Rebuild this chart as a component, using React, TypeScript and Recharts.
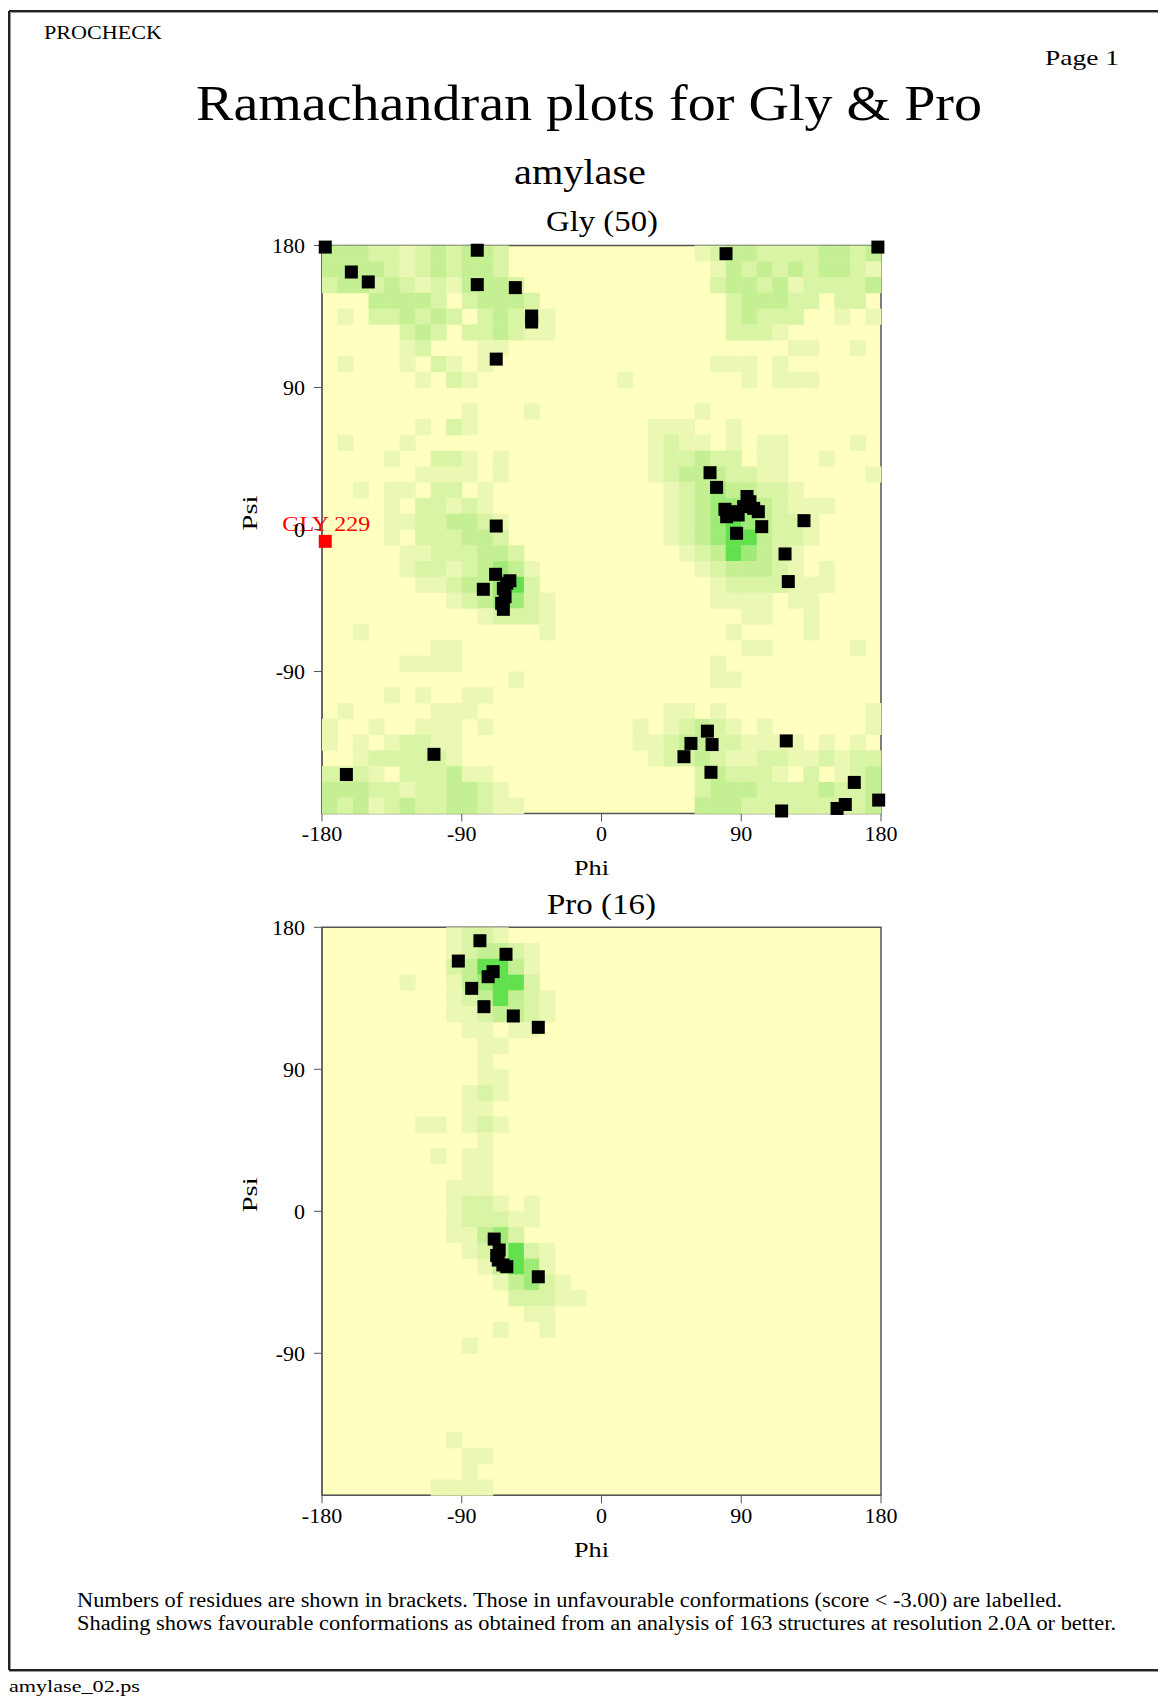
import React from 'react';
import { ScatterChart, Scatter, XAxis, YAxis, CartesianGrid, ReferenceArea } from 'recharts';

// ---------- data ----------
const PHI_TICKS = [-180, -90, 0, 90, 180];
const PSI_TICKS = [-90, 0, 90, 180];

// shading level per 10x10 degree cell; rows run from psi 180 (top) down to -180,
// left half = phi -180..0, right half = phi 0..180
const GLY_SHADE_LEFT = [
  '333221232332......',
  '333321232332......',
  '2332321213332.....',
  '...33332.23332....',
  '.1.223232.23221...',
  '.....232.223211...',
  '.....12...11......',
  '.1...1.21.1.......',
  '......1.21........',
  '..................',
  '.........1...1....',
  '......1.21........',
  '.1...1............',
  '....1..221.1......',
  '......1111.1......',
  '..1.11.22.1.......',
  '....1.22121.......',
  '....11223321......',
  '....1.222332......',
  '.....11222332.....',
  '.....122123431....',
  '......11233452....',
  '........1234421...',
  '..........12221...',
  '..1...........1...',
  '.......11.........',
  '.....1111.........',
  '............1.....',
  '....1.1..11.......',
  '.1.....111........',
  '1..1..111.1.......',
  '1.1.12211.........',
  '..1222221.........',
  '2221.222311.......',
  '333221223321......',
  '3231232233211.....',
];
const GLY_SHADE_RIGHT = [
  '......123322223323',
  '.......13232323321',
  '.......23323122223',
  '........233322.22.',
  '........23222..1.1',
  '........2221......',
  '............11..1.',
  '.......111.1......',
  '.1.......1.111....',
  '..................',
  '......1...........',
  '...111..1.........',
  '...1211.1.11....1.',
  '...122322.11..1...',
  '...123332211.....1',
  '....123433221.....',
  '....12344332111...',
  '....1234543221....',
  '....1234553221....',
  '.....12354321.....',
  '......1233321.1...',
  '.......12222111...',
  '.......1111.11....',
  '.........11..1....',
  '........1....1....',
  '.........11.....1.',
  '.......1..........',
  '.......11.........',
  '..................',
  '....11.1.........1',
  '..1.12321.1......1',
  '..11233221111.1.1.',
  '...122321122112122',
  '......232221.2.123',
  '......233322223223',
  '......333222222223',
];

const PRO_SHADE_LEFT = [
  '........1221......',
  '........123321....',
  '........235531....',
  '.....1..134552....',
  '........1235321...',
  '........1123321...',
  '.........11.11....',
  '..........11......',
  '..........1.......',
  '..........11......',
  '.........121......',
  '.........11.......',
  '......11.121......',
  '..........1.......',
  '.......1.11.......',
  '.........11.......',
  '........111.......',
  '........1221.1....',
  '........122211....',
  '........11342.....',
  '.........123521...',
  '..........13541...',
  '...........13421..',
  '............22211.',
  '.............11...',
  '...........1..1...',
  '.........1........',
  '..................',
  '..................',
  '..................',
  '..................',
  '..................',
  '........1.........',
  '.........11.......',
  '.........1........',
  '.......1111.......',
];
const PRO_SHADE_RIGHT = PRO_SHADE_LEFT.map(() => '..................');

const GLY_PHI = [
  -177.9, -161.1, -150.2, -80, -80, -55.5, -45, -45, -67.8,
  -67.8, -68.2, -59, -76.1, -63.2, -62.1, -63.2, -61, -64.3,
  -107.9, -164.3,
  69.9, 74.1, 79.5, 80.6, 88, 95.6, 101, 103.2, 87, 130.4, 118.2, 120.3, 84, 91.5, 98, 93.7,
  80.2, 178,
  68.2, 57.6, 71.2, 53.1, 70.5, 119, 162.8, 178.5, 151.7, 157, 116,
];
const GLY_PSI = [
  179, 163.2, 156.9, 177, 155.2, 153.3, 135.3, 131.5, 108,
  2.2, -28.4, -32.5, -37.9, -37.3, -42.6, -50.6, -34.1, -46.8,
  -142.5, -155.3,
  36.0, 26.7, 12.8, 8.1, 9.2, 17.6, 11.3, 1.8, -2.4, 5.6, -15.5, -33, 11.3, 14.5, 13.4, 20.9,
  174.8, 179,
  -127.8, -135.6, -136.3, -144.0, -153.9, -134, -160.3, -171.5, -176.8, -174.3, -178.4,
];
const GLY_OUT_PHI = [-177.9];
const GLY_OUT_PSI = [-7.5];
const GLY_OUT_LABEL = ['GLY 229'];

const PRO_PHI = [-78.3, -92.2, -61.5, -69.8, -73, -83.6, -75.7, -56.8, -40.7, -69.1, -65.9, -66.5, -61, -40.7, -63.5, -67.5];
const PRO_PSI = [171.5, 158.6, 162.9, 151.9, 148.7, 141.3, 129.7, 123.8, 116.6, -17.6, -24.5, -30.9, -35.1, -41.5, -34, -28];

// ---------- layout / style ----------
const FONT = '"Liberation Serif", "Times New Roman", Times, serif';
const PAGE_W = 1158;
const PAGE_H = 1698;
const PLOT_LEFT = 322;
const PLOT_W = 559;
const PLOT_H = 568;
const N = 36;
const CELL_W = PLOT_W / N;
const CELL_H = PLOT_H / N;
const SQ = 13;
const SHADE_COLORS = ['#FFFFC0', '#EAF8B4', '#D9F4A4', '#C4F093', '#A0EA78', '#62E04E'];
const AXIS_COLOR = '#555555';

function toCells(left: string[], right: string[]) {
  const cells: { phi: number; psi: number; level: number }[] = [];
  left.forEach((l, r) => {
    const s = (l.padEnd(18, '.').slice(0, 18) + (right[r] || '').padEnd(18, '.').slice(0, 18));
    for (let c = 0; c < N; c++) {
      const ch = s[c];
      if (ch !== '.') cells.push({ phi: -175 + 10 * c, psi: 175 - 10 * r, level: Number(ch) });
    }
  });
  return cells;
}

function toPoints(phi: number[], psi: number[], labels?: string[]) {
  return phi.map((p, i) => ({ phi: p, psi: psi[i], label: labels ? labels[i] : '' }));
}

const CellShape = (props: any) => {
  const { cx, cy, payload } = props;
  if (cx == null || cy == null) return <g />;
  return (
    <rect
      x={cx - CELL_W / 2}
      y={cy - CELL_H / 2}
      width={CELL_W + 0.4}
      height={CELL_H + 0.4}
      fill={SHADE_COLORS[payload.level]}
      stroke="none"
    />
  );
};

const PointShape = (props: any) => {
  const { cx, cy } = props;
  if (cx == null || cy == null) return <g />;
  return <rect x={cx - SQ / 2} y={cy - SQ / 2} width={SQ} height={SQ} fill="#000" />;
};

const OutlierShape = (props: any) => {
  const { cx, cy, payload } = props;
  if (cx == null || cy == null) return <g />;
  return (
    <g>
      <rect x={cx - SQ / 2} y={cy - SQ / 2} width={SQ} height={SQ} fill="#FF0000" />
      <text
        x={cx - 43}
        y={cy - 10}
        fill="#FF0000"
        fontSize={20}
        fontFamily={FONT}
        textLength={88}
        lengthAdjust="spacingAndGlyphs"
      >
        {payload.label}
      </text>
    </g>
  );
};

type PanelProps = {
  top: number;
  height: number;
  plotTop: number;
  cells: any[];
  points: any[];
  outliers: any[];
};

function Panel({ top, height, plotTop, cells, points, outliers }: PanelProps) {
  const yAxisW = 60;
  const xAxisH = 30;
  const mTop = plotTop - top;
  const margin = {
    top: mTop,
    left: PLOT_LEFT - yAxisW,
    right: PAGE_W - PLOT_LEFT - PLOT_W,
    bottom: height - mTop - PLOT_H - xAxisH,
  };
  const tickStyle = { fill: '#000', fontSize: 22, fontFamily: FONT };
  return (
    <div style={{ position: 'absolute', left: 0, top, width: PAGE_W, height }}>
      <ScatterChart width={PAGE_W} height={height} margin={margin} style={{ overflow: 'visible' }}>
        <CartesianGrid fill={SHADE_COLORS[0]} horizontal={false} vertical={false} stroke="none" />
        <XAxis
          type="number"
          dataKey="phi"
          domain={[-180, 180]}
          ticks={PHI_TICKS}
          interval={0}
          tickSize={8}
          tickMargin={4}
          height={xAxisH}
          stroke={AXIS_COLOR}
          tick={tickStyle}
        />
        <YAxis
          type="number"
          dataKey="psi"
          domain={[-180, 180]}
          ticks={PSI_TICKS}
          interval={0}
          tickSize={8}
          tickMargin={9}
          width={yAxisW}
          stroke={AXIS_COLOR}
          tick={tickStyle}
        />
        <Scatter data={cells} shape={CellShape} isAnimationActive={false} />
        <ReferenceArea
          x1={-180}
          x2={180}
          y1={-180}
          y2={180}
          fill="none"
          fillOpacity={0}
          stroke={AXIS_COLOR}
          strokeWidth={1.5}
          ifOverflow="visible"
        />
        <Scatter data={points} shape={PointShape} isAnimationActive={false} />
        {outliers.length > 0 && <Scatter data={outliers} shape={OutlierShape} isAnimationActive={false} />}
      </ScatterChart>
    </div>
  );
}

function T(props: any) {
  const { children, ...rest } = props;
  return (
    <text fontFamily={FONT} fill="#000" lengthAdjust="spacingAndGlyphs" {...rest}>
      {children}
    </text>
  );
}

export default function App() {
  const glyCells = toCells(GLY_SHADE_LEFT, GLY_SHADE_RIGHT);
  const proCells = toCells(PRO_SHADE_LEFT, PRO_SHADE_RIGHT);
  const glyPts = toPoints(GLY_PHI, GLY_PSI);
  const glyOut = toPoints(GLY_OUT_PHI, GLY_OUT_PSI, GLY_OUT_LABEL);
  const proPts = toPoints(PRO_PHI, PRO_PSI);
  const glyTop = 245.5;
  const proTop = 927.3;
  return (
    <div style={{ position: 'absolute', left: 0, top: 0, width: PAGE_W, height: PAGE_H, background: '#fff', overflow: 'hidden' }}>
      <Panel top={0} height={900} plotTop={glyTop} cells={glyCells} points={glyPts} outliers={glyOut} />
      <Panel top={900} height={700} plotTop={proTop} cells={proCells} points={proPts} outliers={[]} />
      <svg width={PAGE_W} height={PAGE_H} style={{ position: 'absolute', left: 0, top: 0, pointerEvents: 'none' }}>
        {/* page frame */}
        <line x1={9} y1={11} x2={PAGE_W + 5} y2={11} stroke="#222" strokeWidth={2} />
        <line x1={10} y1={12.5} x2={PAGE_W + 5} y2={12.5} stroke="#999" strokeWidth={1} />
        <line x1={9} y1={11} x2={9} y2={1670} stroke="#222" strokeWidth={2} />
        <line x1={10.5} y1={12} x2={10.5} y2={1669} stroke="#999" strokeWidth={1} />
        <line x1={9} y1={1670} x2={PAGE_W + 5} y2={1670} stroke="#222" strokeWidth={2} />
        <line x1={9} y1={1671.5} x2={PAGE_W + 5} y2={1671.5} stroke="#999" strokeWidth={1} />

        <T x={44} y={39} fontSize={19} textLength={118}>PROCHECK</T>
        <T x={1045} y={65} fontSize={21} textLength={74}>Page  1</T>
        <T x={196} y={120} fontSize={51} textLength={786}>Ramachandran plots for Gly &amp; Pro</T>
        <T x={514} y={184} fontSize={35} textLength={132}>amylase</T>

        <T x={546} y={231} fontSize={29} textLength={112}>Gly (50)</T>
        <T x={574} y={875} fontSize={22} textLength={35}>Phi</T>
        <T x={0} y={0} fontSize={22} textLength={35} textAnchor="middle" transform={`translate(257, ${glyTop + 267.5}) rotate(-90)`}>Psi</T>

        <T x={547} y={914} fontSize={29} textLength={109}>Pro (16)</T>
        <T x={574} y={875 + (proTop - glyTop)} fontSize={22} textLength={35}>Phi</T>
        <T x={0} y={0} fontSize={22} textLength={35} textAnchor="middle" transform={`translate(257, ${proTop + 267.5}) rotate(-90)`}>Psi</T>

        <T x={77} y={1607} fontSize={20} textLength={985}>
          Numbers of residues are shown in brackets. Those in unfavourable conformations (score &lt; -3.00) are labelled.
        </T>
        <T x={77} y={1630} fontSize={20} textLength={1039}>
          Shading shows favourable conformations as obtained from an analysis of 163 structures at resolution 2.0A or better.
        </T>
        <T x={9} y={1692} fontSize={17} textLength={131}>amylase_02.ps</T>
      </svg>
    </div>
  );
}
